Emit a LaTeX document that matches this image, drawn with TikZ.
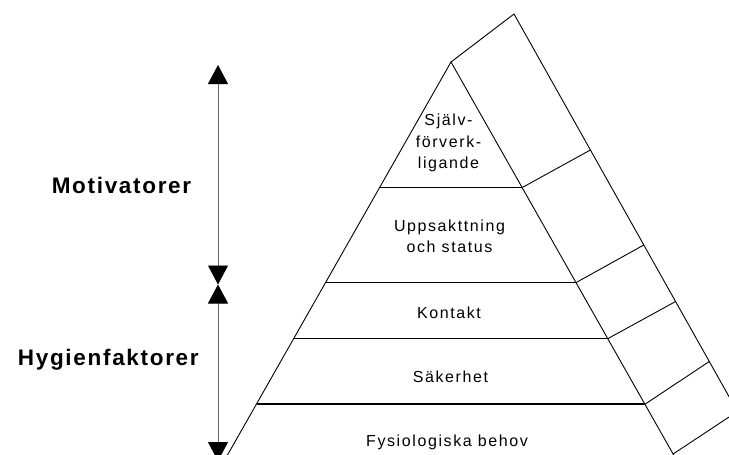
\documentclass[tikz,border=0pt]{standalone}
\usepackage{fontspec}
\setmainfont{Liberation Sans}
\usetikzlibrary{arrows.meta}
\begin{document}
\begin{tikzpicture}[x=1pt,y=-1pt,
  edge/.style={line width=0.9pt, black},
  rung/.style={line width=1.2pt, black},
  dimline/.style={line width=0.8pt, black!60,
    {Triangle[width=20pt,length=19pt,color=black]}-{Triangle[width=20pt,length=19pt,color=black]}},
  lvl/.style={font=\fontsize{16}{21.5}\selectfont\addfontfeature{LetterSpace=10}, inner sep=0pt, align=center},
  grp/.style={font=\fontsize{22.5}{26}\selectfont\bfseries\addfontfeature{LetterSpace=7.5}, inner sep=0pt, anchor=base}]
\useasboundingbox (0,0) rectangle (729,455);
% pyramid
\coordinate (A)  at (451,62);
\coordinate (L1) at (379.7,187.5);
\coordinate (L2) at (325.8,282.5);
\coordinate (L3) at (293.8,338.5);
\coordinate (L4) at (256.5,404);
\coordinate (L5) at (221.8,465);
\coordinate (R1) at (522.3,187.5);
\coordinate (R2) at (576.2,282.5);
\coordinate (R3) at (608.1,338.5);
\coordinate (R4) at (645.3,404);
\coordinate (R5) at (673.1,454);
\coordinate (R6) at (679.9,466);
% outer band
\coordinate (O0) at (514,14);
\coordinate (O1) at (590.4,150);
\coordinate (O2) at (643.8,245);
\coordinate (O3) at (675.6,301.5);
\coordinate (O4) at (709.3,361.5);
\coordinate (O5) at (737.4,411.5);
\coordinate (O6) at (772.5,474);
\draw[edge] (L5) -- (A) -- (R6);
\draw[edge] (A) -- (O0) -- (O6);
\draw[edge] (R1) -- (O1);
\draw[edge] (R2) -- (O2);
\draw[edge] (R3) -- (O3);
\draw[edge] (R4) -- (O4);
\draw[edge] (R5) -- (O5);
\draw[rung] (L1) -- (R1);
\draw[rung] (L2) -- (R2);
\draw[rung] (L3) -- (R3);
\draw[rung] (L4) -- (R4);
% level texts
\node[lvl] (t1) at (448.5,143) {Själv-\\förverk-\\ligande};
\node[lvl] (t2) at (449.5,236.5) {Uppsakttning\\och status};
\node[lvl, anchor=base] (t3) at (449,318.3) {Kontakt};
\node[lvl, anchor=base] (t4) at (450.5,382.7) {Säkerhet};
\node[lvl, anchor=base] (t5) at (447,446.7) {Fysiologiska behov};
% side arrows
\coordinate (a0) at (218,65);
\coordinate (a1) at (218,284.5);
\coordinate (a2) at (218,461);
\draw[dimline] (a0) -- (a1);
\draw[dimline] (a1) -- (a2);
\node[grp] (mot) at (121.5,193.3) {Motivatorer};
\node[grp] (hyg) at (108.3,365.5) {Hygienfaktorer};
\end{tikzpicture}
\end{document}
